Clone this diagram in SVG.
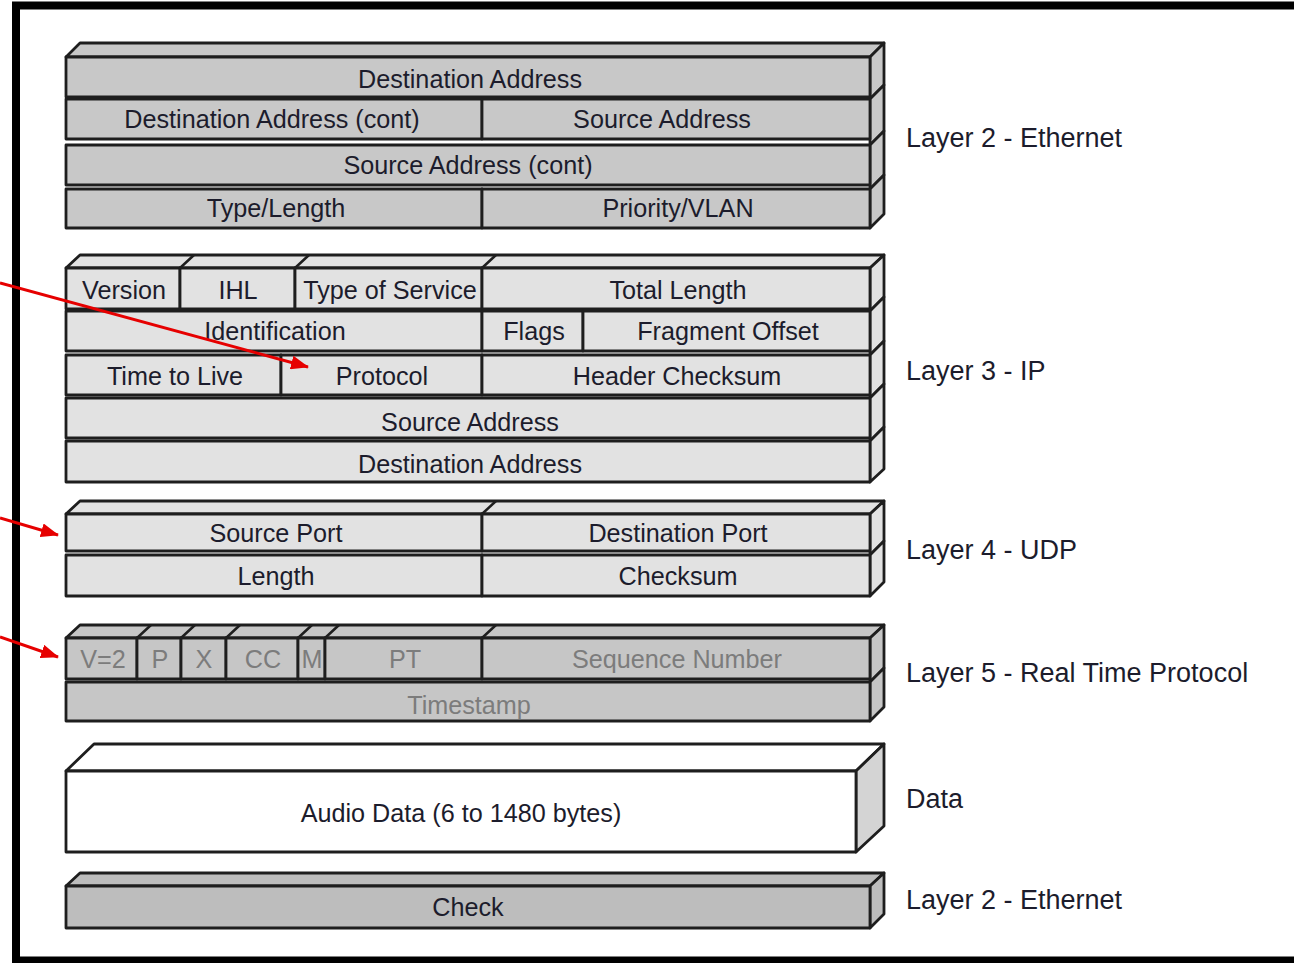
<svg xmlns="http://www.w3.org/2000/svg" width="1294" height="963" viewBox="0 0 1294 963">
<defs>
<style>
.c{stroke:#1e1e1e;stroke-width:2.8;stroke-linejoin:round}
.eth{fill:#c8c8c8}
.ip{fill:#e2e2e2}
.rtp{fill:#c6c6c6}
.dat{fill:#ffffff}
.chk{fill:#bdbdbd}
.sl{stroke:#1e1e1e;stroke-width:2.5;fill:none}
.t{font-family:"Liberation Sans",Arial,sans-serif;font-size:25.2px;fill:#1c1c2c;text-anchor:middle}
.tg{font-family:"Liberation Sans",Arial,sans-serif;font-size:25.2px;fill:#7c7c7c;text-anchor:middle}
.lab{font-family:"Liberation Sans",Arial,sans-serif;font-size:27px;fill:#1c1c2c}
.arr{stroke:#e60000;stroke-width:3;fill:none}
</style>
<marker id="ah" markerWidth="18" markerHeight="14" refX="17" refY="7" orient="auto" markerUnits="userSpaceOnUse">
<path d="M0,0 L18,7 L0,14 z" fill="#e60000"/>
</marker>
</defs>
<rect width="1294" height="963" fill="#ffffff"/>
<rect x="16" y="5.5" width="1300" height="955" fill="none" stroke="#000" stroke-width="8"/>

<g id="ethernet">
<polygon class="c eth" points="66,57 80,43 884,43 870,57"/>
<polygon class="c eth" points="870,57 884,43 884,85 870,99"/>
<polygon class="c eth" points="870,99 884,85 884,131 870,145"/>
<polygon class="c eth" points="870,145 884,131 884,175 870,189"/>
<polygon class="c eth" points="870,189 884,175 884,214 870,228"/>
<rect class="c eth" x="66" y="57" width="804" height="40"/>
<rect class="c eth" x="66" y="99" width="416" height="40"/>
<rect class="c eth" x="482" y="99" width="388" height="40"/>
<rect class="c eth" x="66" y="145" width="804" height="40"/>
<rect class="c eth" x="66" y="189" width="416" height="39"/>
<rect class="c eth" x="482" y="189" width="388" height="39"/>
<text class="t" x="470" y="88">Destination Address</text>
<text class="t" x="272" y="128">Destination Address (cont)</text>
<text class="t" x="662" y="128">Source Address</text>
<text class="t" x="468" y="174">Source Address (cont)</text>
<text class="t" x="276" y="217">Type/Length</text>
<text class="t" x="678" y="217">Priority/VLAN</text>
</g>

<g id="ip">
<polygon class="c ip" points="66,268 80,255 884,255 870,268"/>
<path class="sl" d="M180,268 L194,255 M295,268 L309,255 M482,268 L496,255"/>
<polygon class="c ip" points="870,268 884,255 884,297 870,311"/>
<polygon class="c ip" points="870,311 884,297 884,341 870,355"/>
<polygon class="c ip" points="870,355 884,341 884,384 870,398"/>
<polygon class="c ip" points="870,398 884,384 884,427 870,441"/>
<polygon class="c ip" points="870,441 884,427 884,469 870,482"/>
<rect class="c ip" x="66" y="268" width="114" height="41"/>
<rect class="c ip" x="180" y="268" width="115" height="41"/>
<rect class="c ip" x="295" y="268" width="187" height="41"/>
<rect class="c ip" x="482" y="268" width="388" height="41"/>
<rect class="c ip" x="66" y="311" width="416" height="40"/>
<rect class="c ip" x="482" y="311" width="101" height="40"/>
<rect class="c ip" x="583" y="311" width="287" height="40"/>
<rect class="c ip" x="66" y="355" width="215" height="40"/>
<rect class="c ip" x="281" y="355" width="201" height="40"/>
<rect class="c ip" x="482" y="355" width="388" height="40"/>
<rect class="c ip" x="66" y="398" width="804" height="40"/>
<rect class="c ip" x="66" y="441" width="804" height="41"/>
<text class="t" x="124" y="299">Version</text>
<text class="t" x="238" y="299">IHL</text>
<text class="t" x="390" y="299">Type of Service</text>
<text class="t" x="678" y="299">Total Length</text>
<text class="t" x="275" y="340">Identification</text>
<text class="t" x="534" y="340">Flags</text>
<text class="t" x="728" y="340">Fragment Offset</text>
<text class="t" x="175" y="385">Time to Live</text>
<text class="t" x="382" y="385">Protocol</text>
<text class="t" x="677" y="385">Header Checksum</text>
<text class="t" x="470" y="431">Source Address</text>
<text class="t" x="470" y="473">Destination Address</text>
</g>

<g id="udp">
<polygon class="c ip" points="66,514 80,501 884,501 870,514"/>
<path class="sl" d="M482,514 L496,501"/>
<polygon class="c ip" points="870,514 884,501 884,541 870,555"/>
<polygon class="c ip" points="870,555 884,541 884,582 870,596"/>
<rect class="c ip" x="66" y="514" width="416" height="37"/>
<rect class="c ip" x="482" y="514" width="388" height="37"/>
<rect class="c ip" x="66" y="555" width="416" height="41"/>
<rect class="c ip" x="482" y="555" width="388" height="41"/>
<text class="t" x="276" y="542">Source Port</text>
<text class="t" x="678" y="542">Destination Port</text>
<text class="t" x="276" y="585">Length</text>
<text class="t" x="678" y="585">Checksum</text>
</g>

<g id="rtp">
<polygon class="c rtp" points="66,638 80,625 884,625 870,638"/>
<path class="sl" d="M137,638 L151,625 M181,638 L195,625 M226,638 L240,625 M298,638 L312,625 M325,638 L339,625 M482,638 L496,625"/>
<polygon class="c rtp" points="870,638 884,625 884,668 870,682"/>
<polygon class="c rtp" points="870,682 884,668 884,707 870,721"/>
<rect class="c rtp" x="66" y="638" width="71" height="41"/>
<rect class="c rtp" x="137" y="638" width="44" height="41"/>
<rect class="c rtp" x="181" y="638" width="45" height="41"/>
<rect class="c rtp" x="226" y="638" width="72" height="41"/>
<rect class="c rtp" x="298" y="638" width="27" height="41"/>
<rect class="c rtp" x="325" y="638" width="157" height="41"/>
<rect class="c rtp" x="482" y="638" width="388" height="41"/>
<rect class="c rtp" x="66" y="682" width="804" height="39"/>
<text class="tg" x="103" y="668">V=2</text>
<text class="tg" x="160" y="668">P</text>
<text class="tg" x="204" y="668">X</text>
<text class="tg" x="263" y="668">CC</text>
<text class="tg" x="312" y="668">M</text>
<text class="tg" x="405" y="668">PT</text>
<text class="tg" x="677" y="668">Sequence Number</text>
<text class="tg" x="469" y="714">Timestamp</text>
</g>

<g id="data">
<polygon class="c dat" points="66,771 94,744 884,744 856,771"/>
<polygon class="c" fill="#d4d4d4" points="856,771 884,744 884,826 856,852"/>
<rect class="c dat" x="66" y="771" width="790" height="81"/>
<text class="t" x="461" y="822">Audio Data (6 to 1480 bytes)</text>
</g>

<g id="check">
<polygon class="c chk" points="66,886 80,873 884,873 870,886"/>
<polygon class="c chk" points="870,886 884,873 884,914 870,928"/>
<rect class="c chk" x="66" y="886" width="804" height="42"/>
<text class="t" x="468" y="916">Check</text>
</g>

<g id="labels">
<text class="lab" x="906" y="147">Layer 2 - Ethernet</text>
<text class="lab" x="906" y="380">Layer 3 - IP</text>
<text class="lab" x="906" y="559">Layer 4 - UDP</text>
<text class="lab" x="906" y="682">Layer 5 - Real Time Protocol</text>
<text class="lab" x="906" y="808">Data</text>
<text class="lab" x="906" y="909">Layer 2 - Ethernet</text>
</g>

<g id="connectors">
<line class="arr" x1="0" y1="283" x2="308" y2="367" marker-end="url(#ah)"/>
<line class="arr" x1="0" y1="518" x2="58" y2="535" marker-end="url(#ah)"/>
<line class="arr" x1="0" y1="637" x2="58" y2="657" marker-end="url(#ah)"/>
</g>
</svg>
